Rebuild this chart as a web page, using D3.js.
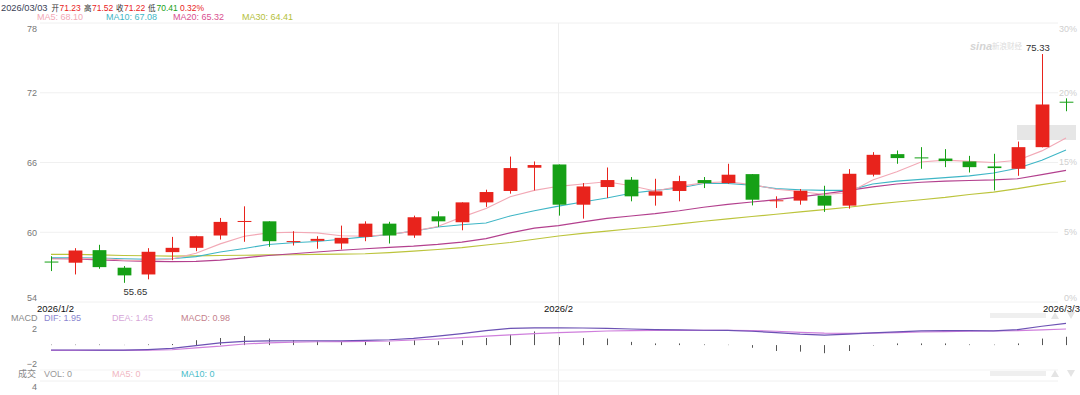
<!DOCTYPE html>
<html><head><meta charset="utf-8">
<script src="https://cdn.jsdelivr.net/npm/d3@7"></script>
<style>body{margin:0;background:#fff}svg{display:block;font-family:"Liberation Sans",Arial,"Noto Sans CJK SC",sans-serif}</style>
</head><body>
<svg id="c" width="1080" height="395"></svg>
<script>
const dates = ["2026/1/2","2026/1/5","2026/1/6","2026/1/7","2026/1/8","2026/1/9","2026/1/12","2026/1/13","2026/1/14","2026/1/15","2026/1/16","2026/1/19","2026/1/20","2026/1/21","2026/1/22","2026/1/23","2026/1/26","2026/1/27","2026/1/28","2026/1/29","2026/1/30","2026/2/2","2026/2/3","2026/2/4","2026/2/5","2026/2/6","2026/2/9","2026/2/10","2026/2/11","2026/2/12","2026/2/13","2026/2/16","2026/2/17","2026/2/18","2026/2/19","2026/2/20","2026/2/23","2026/2/24","2026/2/25","2026/2/26","2026/2/27","2026/3/2","2026/3/3"];
const openP  = [57.48,57.38,58.46,56.95,56.37,58.29,58.66,59.72,60.95,60.94,59.22,59.26,59.03,59.60,60.74,59.72,61.37,60.86,62.57,63.55,65.55,65.83,62.37,63.89,64.52,63.15,63.55,64.49,64.23,65.00,62.73,62.72,63.15,62.29,64.95,66.72,66.44,66.34,66.09,65.66,65.46,67.32,71.23];
const highP  = [57.94,58.63,58.92,57.09,58.63,59.60,59.70,61.23,62.23,60.94,60.09,59.66,60.57,60.94,60.90,61.43,61.80,62.57,63.66,66.51,66.09,65.83,64.23,65.57,64.75,64.60,64.86,64.75,65.89,65.00,63.09,63.72,64.00,65.43,66.89,67.03,67.32,67.15,66.57,66.75,67.80,75.33,71.52];
const lowP   = [56.66,56.37,56.86,55.65,55.95,57.60,58.37,59.37,59.18,58.75,58.86,58.58,58.52,59.23,59.03,59.52,60.46,60.17,62.18,63.32,63.60,61.43,61.17,62.95,62.66,62.29,62.66,63.80,64.18,62.31,62.09,62.37,61.75,62.03,64.80,65.89,65.46,65.60,65.14,63.60,64.86,67.30,70.41];
const closeP = [57.44,58.43,57.00,56.29,58.32,58.66,59.66,60.89,60.97,59.23,59.24,59.43,59.52,60.74,59.72,61.29,60.94,62.57,63.46,65.52,65.78,62.37,63.94,64.49,63.09,63.52,64.40,64.23,64.95,62.80,62.75,63.57,62.29,65.03,66.66,66.38,66.42,66.12,65.60,65.52,67.32,70.99,71.22];
const ma5  = [57.70,57.72,57.75,57.60,57.55,57.70,58.20,59.00,59.65,59.95,60.00,59.95,59.70,59.65,59.80,60.10,60.50,61.30,62.05,63.05,63.60,63.95,64.15,64.35,64.00,63.55,63.95,64.25,64.35,64.10,63.70,63.50,63.25,63.40,64.50,65.20,66.05,66.20,66.10,66.00,66.20,67.00,68.10];
const ma10 = [57.80,57.80,57.78,57.72,57.68,57.72,57.90,58.30,58.60,58.95,59.10,59.20,59.40,59.60,59.80,60.10,60.45,60.65,60.80,61.40,61.85,62.25,62.60,62.95,63.35,63.60,63.80,64.20,64.20,64.05,63.75,63.65,63.60,63.60,64.15,64.40,64.55,64.70,64.85,65.10,65.50,66.20,67.08];
const ma20 = [57.75,57.70,57.62,57.55,57.50,57.47,57.50,57.60,57.80,58.00,58.15,58.30,58.45,58.58,58.70,58.80,58.95,59.15,59.45,59.95,60.35,60.57,60.90,61.20,61.40,61.60,61.85,62.15,62.40,62.60,62.80,63.05,63.30,63.60,63.90,64.15,64.30,64.40,64.45,64.50,64.60,64.95,65.32];
const ma30 = [58.10,58.10,58.05,58.00,57.98,57.95,57.97,58.00,58.02,58.05,58.07,58.10,58.12,58.15,58.25,58.38,58.52,58.68,58.90,59.12,59.40,59.68,59.90,60.10,60.30,60.50,60.72,60.95,61.15,61.35,61.55,61.75,61.95,62.15,62.40,62.60,62.80,63.00,63.25,63.45,63.75,64.10,64.41];
const dif  = [-0.44,-0.44,-0.45,-0.46,-0.40,-0.30,-0.05,0.20,0.33,0.38,0.39,0.39,0.39,0.42,0.48,0.60,0.80,1.04,1.30,1.50,1.56,1.56,1.54,1.51,1.45,1.40,1.37,1.34,1.33,1.25,1.12,0.98,0.90,0.98,1.10,1.20,1.28,1.30,1.30,1.28,1.40,1.70,1.95];
const dea  = [-0.48,-0.48,-0.48,-0.48,-0.46,-0.42,-0.25,-0.10,0.10,0.20,0.27,0.30,0.31,0.33,0.37,0.46,0.55,0.68,0.80,0.92,1.04,1.13,1.20,1.27,1.30,1.32,1.33,1.33,1.33,1.30,1.25,1.15,1.07,1.05,1.08,1.12,1.18,1.22,1.25,1.27,1.30,1.38,1.45];
const macdHist = [0.04,0.04,0.05,0.02,0.06,0.10,0.44,0.64,0.82,0.59,0.44,0.35,0.29,0.35,0.29,0.44,0.35,0.44,0.64,0.94,1.23,0.73,0.64,0.59,0.29,0.15,0.15,0.06,0.03,-0.24,-0.53,-0.59,-0.73,-0.53,-0.04,0.15,0.15,0.15,0.06,0.04,0.15,0.59,0.75];
const macdValue = 0.98;
const priceTicks = [54,60,66,72,78];
const pctLabels  = ["0%","5%","15%","20%","30%"];
const macdTicks  = [-2,2];
const volTicks   = [4];
const dateTickLabels = [["2026/1/2","2026/1/2"],["2026/2/2","2026/2"],["2026/3/3","2026/3/3"]];

const RED = "#e8231c", GREEN = "#16a016";
const svg = d3.select("#c");

const x = d3.scalePoint().domain(dates).range([51, 1066]);
const bodyW = x.step() * 0.57;
const y = d3.scaleLinear().domain([54, 78]).range([302, 23]);
const yM = d3.scaleLinear().domain([-2, 2]).range([367.3, 322.9]);
const yV = d3.scaleLinear().domain([0, 4]).range([395, 381]);

// grid
svg.append("g").selectAll("line").data(priceTicks).join("line")
  .attr("x1", 40).attr("x2", 1058).attr("y1", d => y(d)).attr("y2", d => y(d))
  .attr("stroke", "#f0f0f0").attr("stroke-width", 1);
svg.append("line").attr("x1", x("2026/2/2")).attr("x2", x("2026/2/2")).attr("y1", 23).attr("y2", 395)
  .attr("stroke", "#eeeeee");
svg.append("line").attr("x1", 40).attr("x2", 1058).attr("y1", 370).attr("y2", 370).attr("stroke", "#f3f3f3");
svg.append("line").attr("x1", 40).attr("x2", 1058).attr("y1", yV(4)).attr("y2", yV(4)).attr("stroke", "#f0f0f0");

// left price axis
const ax = svg.append("g").attr("transform", "translate(37,0)")
  .call(d3.axisLeft(y).tickValues(priceTicks).tickSize(0).tickPadding(0).tickFormat(d3.format("d")));
ax.select(".domain").remove();
ax.selectAll("text").attr("fill", "#777").style("font-size", "9px")
  .attr("dy", d => d === 78 ? "0.95em" : d === 54 ? "-0.15em" : "0.32em");

// right percent axis
svg.append("g").selectAll("text").data(priceTicks).join("text")
  .attr("x", 1077).attr("y", d => y(d)).attr("text-anchor", "end")
  .attr("dy", d => d === 78 ? "0.95em" : d === 54 ? "-0.15em" : "0.32em")
  .attr("fill", "#cfcfcf").style("font-size", "9px")
  .text((d, i) => pctLabels[i]);

// watermark
svg.append("text").attr("x", 970).attr("y", 50).attr("fill", "#d4d4d4")
  .style("font-size", "11px").style("font-style", "italic").style("font-weight", "bold").text("sina");
svg.append("text").attr("x", 992).attr("y", 49).attr("fill", "#dcdcdc")
  .style("font-size", "7.5px").style("font-family", "Noto Sans CJK SC").text("新浪财经");

// current price highlight box
svg.append("rect").attr("x", 1017).attr("y", 125).attr("width", 59).attr("height", 15).attr("fill", "#e6e6e6");

// MA lines
const maDefs = [[ma30, "#bcc43c", 1.1], [ma20, "#b3408e", 1.2], [ma10, "#3fb6c6", 1.1], [ma5, "#f2a9b6", 1.1]];
const line = d3.line().x((d, i) => x(dates[i])).y(d => y(d));
maDefs.forEach(([arr, col, w]) => {
  svg.append("path").datum(arr).attr("d", line).attr("fill", "none").attr("stroke", col).attr("stroke-width", w);
});

// candles
const cg = svg.append("g");
d3.range(dates.length).forEach(i => {
  const up = closeP[i] >= openP[i];
  const col = up ? RED : GREEN;
  const cx = Math.round(x(dates[i])) + 0.5;
  cg.append("line").attr("x1", cx).attr("x2", cx).attr("y1", y(highP[i])).attr("y2", y(lowP[i]))
    .attr("stroke", col).attr("stroke-width", 1);
  const top = y(Math.max(openP[i], closeP[i]));
  const h = Math.max(1, y(Math.min(openP[i], closeP[i])) - top);
  cg.append("rect").attr("x", cx - bodyW / 2).attr("y", top).attr("width", bodyW).attr("height", h).attr("fill", col);
});

// high / low labels
const iMax = d3.maxIndex(highP), iMin = d3.minIndex(lowP);
svg.append("text").attr("x", x(dates[iMin])).attr("y", y(lowP[iMin]) + 12).attr("fill", "#333")
  .style("font-size", "9.5px").text(d3.format(".2f")(lowP[iMin]));
svg.append("text").attr("x", x(dates[iMax]) + 8).attr("y", y(highP[iMax]) - 3).attr("text-anchor", "end").attr("fill", "#333")
  .style("font-size", "9.5px").text(d3.format(".2f")(highP[iMax]));

// date labels
dateTickLabels.forEach(([d, lab], k) => {
  const anchor = k === 0 ? "start" : k === 1 ? "middle" : "end";
  const xx = k === 0 ? x(d) - 14 : k === 1 ? x(d) : 1080;
  svg.append("text").attr("x", xx).attr("y", 312).attr("text-anchor", anchor).attr("fill", "#111")
    .style("font-size", "9.5px").text(lab);
});

// header
const last = dates.length - 1;
const chg = (closeP[last] / closeP[last - 1] - 1) * 100;
const HY = 10.5;
svg.append("text").attr("x", 1).attr("y", HY).attr("fill", "#3a4256").style("font-size", "9.3px").text("2026/03/03");
[["开", openP[last], RED, 51.5, 59.5], ["高", highP[last], RED, 84, 92], ["收", closeP[last], RED, 116, 124], ["低", lowP[last], GREEN, 148, 156.5]].forEach(([k, v, c, kx, vx]) => {
  svg.append("text").attr("x", kx).attr("y", HY).attr("fill", "#333").style("font-size", "7.5px")
    .style("font-family", "Noto Sans CJK SC").text(k);
  svg.append("text").attr("x", vx).attr("y", HY).attr("fill", c).style("font-size", "8.5px").text(d3.format(".2f")(v));
});
svg.append("text").attr("x", 180).attr("y", HY).attr("fill", RED).style("font-size", "8.5px").text(d3.format(".2f")(chg) + "%");

const legend = [["MA5: ", ma5, "#f2a9b6", 37], ["MA10: ", ma10, "#3fb6c6", 106], ["MA20: ", ma20, "#d9508f", 173], ["MA30: ", ma30, "#b4c03a", 242]];
legend.forEach(([lab, arr, col, lx]) => {
  svg.append("text").attr("x", lx).attr("y", 20).attr("fill", col).style("font-size", "9px")
    .text(lab + d3.format(".2f")(arr[last]));
});

// MACD panel
svg.append("text").attr("x", 11).attr("y", 320.5).attr("fill", "#888").style("font-size", "9px").text("MACD");
[["DIF: ", dif[last], "#8a86d0", 44], ["DEA: ", dea[last], "#d6a6d8", 112], ["MACD: ", macdValue, "#c47f8c", 181]].forEach(([lab, v, col, lx]) => {
  svg.append("text").attr("x", lx).attr("y", 320.5).attr("fill", col).style("font-size", "9px").text(lab + d3.format(".2f")(v));
});
const am = svg.append("g").attr("transform", "translate(37,0)")
  .call(d3.axisLeft(yM).tickValues(macdTicks).tickSize(0).tickPadding(0).tickFormat(d3.format("d")));
am.select(".domain").remove();
am.selectAll("text").attr("fill", "#777").style("font-size", "9px")
  .attr("dy", d => d === 2 ? "1.0em" : "-0.1em");

svg.append("g").selectAll("line").data(macdHist).join("line")
  .attr("x1", (d, i) => Math.round(x(dates[i])) + 0.5).attr("x2", (d, i) => Math.round(x(dates[i])) + 0.5)
  .attr("y1", yM(0)).attr("y2", d => yM(d)).attr("stroke", "#555").attr("stroke-width", 1);
const lm = d3.line().x((d, i) => x(dates[i])).y(d => yM(d));
svg.append("path").datum(dea).attr("d", lm).attr("fill", "none").attr("stroke", "#cf7fdc").attr("stroke-width", 1.2);
svg.append("path").datum(dif).attr("d", lm).attr("fill", "none").attr("stroke", "#6c52b4").attr("stroke-width", 1.2);

// volume panel
svg.append("text").attr("x", 36).attr("y", 377).attr("text-anchor", "end").attr("fill", "#888")
  .style("font-size", "9px").style("font-family", "Noto Sans CJK SC").text("成交");
[["VOL: 0", "#999", 44], ["MA5: 0", "#f0b6c2", 112], ["MA10: 0", "#49bcc9", 181]].forEach(([t, col, lx]) => {
  svg.append("text").attr("x", lx).attr("y", 377).attr("fill", col).style("font-size", "9px").text(t);
});
const av = svg.append("g").attr("transform", "translate(37,0)")
  .call(d3.axisLeft(yV).tickValues(volTicks).tickSize(0).tickPadding(0).tickFormat(d3.format("d")));
av.select(".domain").remove();
av.selectAll("text").attr("fill", "#777").style("font-size", "9px").attr("dy", "0.95em");

// faint controls on the right
[316, 374].forEach(cy => {
  svg.append("rect").attr("x", 990).attr("y", cy - 3).attr("width", 56).attr("height", 5).attr("fill", "#efefef");
  svg.append("path").attr("d", `M1051,${cy + 3} l4,-7 l4,7 z`).attr("fill", "#e4e4e4");
  svg.append("path").attr("d", `M1067,${cy - 4} l8,0 l-4,7 z`).attr("fill", "#e4e4e4");
});
</script>
</body></html>
